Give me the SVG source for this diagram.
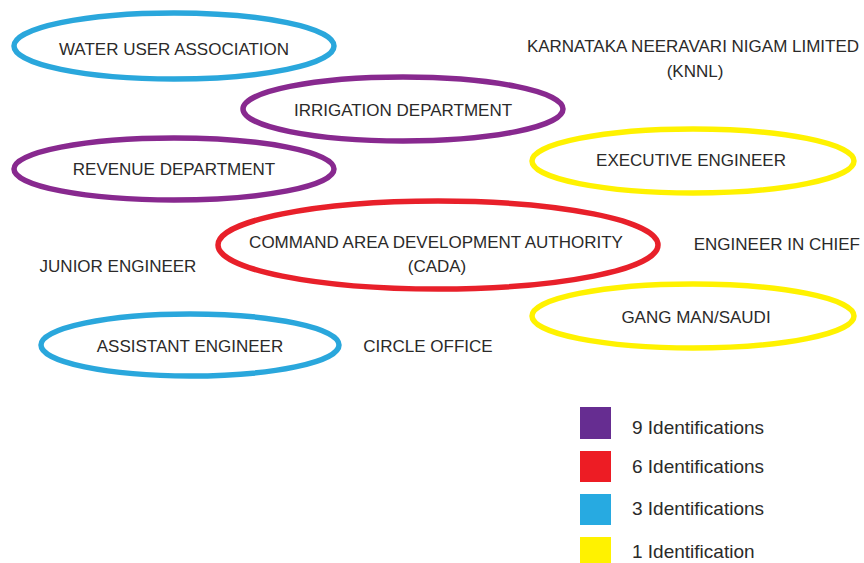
<svg xmlns="http://www.w3.org/2000/svg" width="864" height="563" viewBox="0 0 864 563">
  <style>
    .t { font-family: "Liberation Sans", Arial, sans-serif; font-size: 17px; fill: #2b2a29; text-anchor: middle; }
    .lg { font-family: "Liberation Sans", Arial, sans-serif; font-size: 19px; fill: #2b2a29; }
    .ring { fill: none; stroke-width: 5.5; }
    .purple { stroke: #88298f; }
    .red { stroke: #e8202a; }
    .blue { stroke: #2aa7dc; }
    .yellow { stroke: #fff200; }
  </style>
  <rect width="864" height="563" fill="#ffffff"/>

  <!-- organisations / roles -->
  <g id="water-user-association">
    <ellipse class="ring blue" cx="174" cy="46" rx="160" ry="33"/>
    <text class="t" x="174" y="55">WATER USER ASSOCIATION</text>
  </g>
  <g id="irrigation-department">
    <ellipse class="ring purple" cx="403" cy="109" rx="160" ry="32"/>
    <text class="t" x="403" y="116">IRRIGATION DEPARTMENT</text>
  </g>
  <g id="revenue-department">
    <ellipse class="ring purple" cx="174" cy="169" rx="160" ry="31"/>
    <text class="t" x="174" y="175">REVENUE DEPARTMENT</text>
  </g>
  <g id="knnl">
    <text class="t" x="693" y="52">KARNATAKA NEERAVARI NIGAM LIMITED</text>
    <text class="t" x="695" y="77">(KNNL)</text>
  </g>
  <g id="executive-engineer">
    <ellipse class="ring yellow" cx="693" cy="161" rx="161" ry="32"/>
    <text class="t" x="691" y="166">EXECUTIVE ENGINEER</text>
  </g>
  <g id="cada">
    <ellipse class="ring red" cx="438" cy="245" rx="220" ry="44"/>
    <text class="t" x="436" y="248">COMMAND AREA DEVELOPMENT AUTHORITY</text>
    <text class="t" x="437" y="272">(CADA)</text>
  </g>
  <g id="junior-engineer">
    <text class="t" x="118" y="272">JUNIOR ENGINEER</text>
  </g>
  <g id="engineer-in-chief">
    <text class="t" x="860" y="250" style="text-anchor: end">ENGINEER IN CHIEF</text>
  </g>
  <g id="gang-man">
    <ellipse class="ring yellow" cx="693" cy="316" rx="161" ry="32"/>
    <text class="t" x="696" y="323">GANG MAN/SAUDI</text>
  </g>
  <g id="assistant-engineer">
    <ellipse class="ring blue" cx="190" cy="345" rx="149" ry="31"/>
    <text class="t" x="190" y="352">ASSISTANT ENGINEER</text>
  </g>
  <g id="circle-office">
    <text class="t" x="428" y="352">CIRCLE OFFICE</text>
  </g>

  <!-- no connectors in this figure -->
  <g id="connectors"/>

  <!-- legend -->
  <g id="legend">
    <rect x="580" y="407" width="31" height="32" fill="#662d91"/>
    <text class="lg" x="632" y="434">9 Identifications</text>
    <rect x="580" y="451" width="31" height="31" fill="#ed1c24"/>
    <text class="lg" x="632" y="473">6 Identifications</text>
    <rect x="580" y="494" width="31" height="31" fill="#27aae1"/>
    <text class="lg" x="632" y="515">3 Identifications</text>
    <rect x="580" y="537" width="31" height="31" fill="#fff200"/>
    <text class="lg" x="632" y="558">1 Identification</text>
  </g>
</svg>
